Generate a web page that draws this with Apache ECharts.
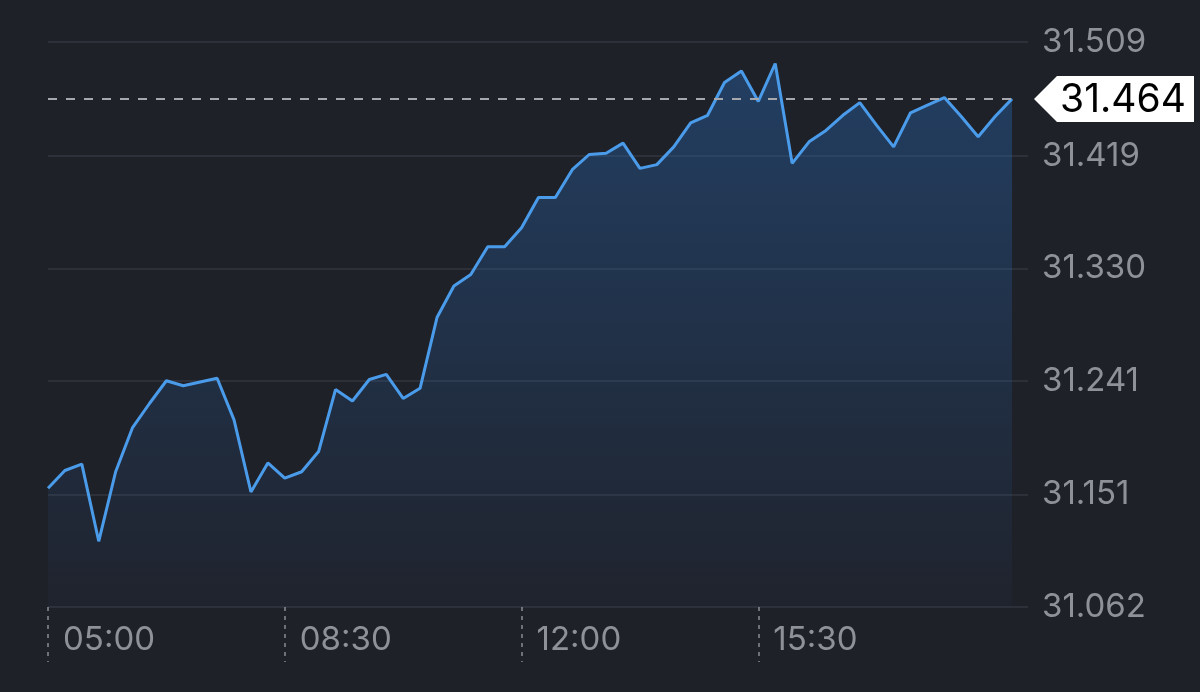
<!DOCTYPE html>
<html>
<head>
<meta charset="utf-8">
<script src="https://cdn.jsdelivr.net/npm/echarts@6/dist/echarts.min.js"></script>
<style>
html,body{margin:0;padding:0;background:#1f2129;}
#c{width:1200px;height:692px;}
</style>
</head>
<body>
<div id="c"></div>
<script>
const times = ['05:00','05:15','05:30','05:45','06:00','06:15','06:30','06:45','07:00','07:15','07:30','07:45','08:00','08:15','08:30','08:45','09:00','09:15','09:30','09:45','10:00','10:15','10:30','10:45','11:00','11:15','11:30','11:45','12:00','12:15','12:30','12:45','13:00','13:15','13:30','13:45','14:00','14:15','14:30','14:45','15:00','15:15','15:30','15:45','16:00','16:15','16:30','16:45','17:00','17:15','17:30','17:45','18:00','18:15','18:30','18:45','19:00','19:15'];
const prices = [31.156,31.170,31.175,31.114,31.169,31.204,31.223,31.241,31.237,31.240,31.243,31.210,31.153,31.176,31.164,31.169,31.185,31.234,31.225,31.242,31.246,31.227,31.235,31.291,31.316,31.325,31.347,31.347,31.362,31.386,31.386,31.408,31.420,31.421,31.429,31.409,31.412,31.426,31.445,31.451,31.477,31.486,31.462,31.492,31.413,31.430,31.439,31.451,31.461,31.443,31.426,31.453,31.459,31.465,31.450,31.434,31.450,31.464];
const xLabels = ['05:00','08:30','12:00','15:30'];
const yTicks = [31.062,31.151,31.241,31.330,31.419,31.509];
const lastPrice = 31.464;

const chart = echarts.init(document.getElementById('c'));
const gridColor = '#2d3039';
const textColor = '#8f9199';
const option = {
  backgroundColor: '#1f2129',
  animation: false,
  grid: {left: 48, right: 188, top: 42, bottom: 85, containLabel: false},
  xAxis: {
    type: 'category',
    data: times,
    boundaryGap: false,
    axisLine: {show: false},
    axisTick: {
      show: true,
      length: 55,
      interval: (i, v) => xLabels.indexOf(v) >= 0,
      lineStyle: {color: '#8a8c93', width: 1.5, type: [4, 5]}
    },
    axisLabel: {
      show: true,
      interval: (i, v) => xLabels.indexOf(v) >= 0,
      align: 'left',
      margin: 17,
      padding: [0, 0, 0, 15],
      color: textColor,
      fontSize: 33,
      fontFamily: 'Inter'
    },
    splitLine: {show: false}
  },
  yAxis: {
    type: 'value',
    position: 'right',
    min: yTicks[0],
    max: yTicks[yTicks.length - 1],
    interval: (yTicks[yTicks.length - 1] - yTicks[0]) / (yTicks.length - 1),
    axisLine: {show: false},
    axisTick: {show: true, length: 16, customValues: yTicks, lineStyle: {color: gridColor, width: 2}},
    axisLabel: {
      customValues: yTicks,
      margin: 30,
      color: textColor,
      fontSize: 33,
      fontFamily: 'Inter',
      formatter: v => v.toFixed(3)
    },
    splitLine: {show: true, customValues: yTicks, lineStyle: {color: gridColor, width: 2}}
  },
  series: [{
    type: 'line',
    data: prices,
    symbol: 'none',
    lineStyle: {color: '#4a9ceb', width: 3},
    areaStyle: {
      color: new echarts.graphic.LinearGradient(0, 0, 0, 1, [
        {offset: 0, color: 'rgba(40,110,190,0.55)'},
        {offset: 1, color: 'rgba(40,110,190,0.04)'}
      ])
    },
    markLine: {
      silent: true,
      precision: 3,
      symbol: ['none', 'none'],
      label: {show: false},
      lineStyle: {color: '#a6a8ae', width: 2, type: [9, 9]},
      data: [{yAxis: lastPrice}]
    }
  }]
};
chart.setOption(option);

const lastX = chart.convertToPixel({xAxisIndex: 0}, times.length - 1);
const yPix = chart.convertToPixel({yAxisIndex: 0}, lastPrice);
const tipX = lastX + 22, boxL = tipX + 23, boxR = boxL + 137, h = 23;
chart.setOption({
  graphic: [
    {
      type: 'polygon',
      shape: {points: [[tipX, yPix], [boxL, yPix - h], [boxR, yPix - h], [boxR, yPix + h], [boxL, yPix + h]]},
      style: {fill: '#ffffff'}
    },
    {
      type: 'text',
      x: boxL + 66, y: yPix + 1,
      style: {text: lastPrice.toFixed(3), fill: '#000000', fontSize: 39, fontFamily: 'Inter', align: 'center', verticalAlign: 'middle'}
    }
  ]
});
</script>
</body>
</html>
